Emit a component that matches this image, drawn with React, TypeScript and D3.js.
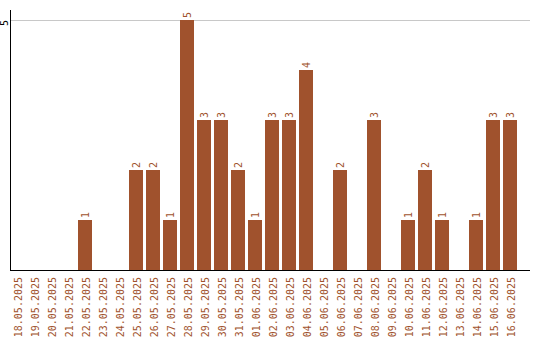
import React from "react";
import * as d3 from "d3";

const categories: string[] = [
  "18.05.2025", "19.05.2025", "20.05.2025", "21.05.2025", "22.05.2025",
  "23.05.2025", "24.05.2025", "25.05.2025", "26.05.2025", "27.05.2025",
  "28.05.2025", "29.05.2025", "30.05.2025", "31.05.2025", "01.06.2025",
  "02.06.2025", "03.06.2025", "04.06.2025", "05.06.2025", "06.06.2025",
  "07.06.2025", "08.06.2025", "09.06.2025", "10.06.2025", "11.06.2025",
  "12.06.2025", "13.06.2025", "14.06.2025", "15.06.2025", "16.06.2025",
];
const values: number[] = [
  0, 0, 0, 0, 1, 0, 0, 2, 2, 1, 5, 3, 3, 2, 1, 3, 3, 4, 0, 2, 0, 3, 0, 1, 2, 1, 0, 1, 3, 3,
];
const yTicks: number[] = [5];

const W = 540;
const H = 340;
const COLOR = "#A0522D";
const FONT = "'DejaVu Sans Mono', monospace";

export default function App() {
  const x = d3
    .scaleBand<string>()
    .domain(categories)
    .range([10, 517])
    .paddingInner(3 / 17)
    .paddingOuter(0);
  const y = d3.scaleLinear().domain([0, 5]).range([270, 20]);
  const bw = x.bandwidth();

  return (
    <svg
      width={W}
      height={H}
      style={{ position: "absolute", left: 0, top: 0, background: "#fff" }}
    >
      {yTicks.map((t) => (
        <g key={t}>
          <line x1={10} x2={530} y1={y(t) + 0.5} y2={y(t) + 0.5} stroke="#c8c8c8" strokeWidth={1} />
          <text
            transform={`translate(7.5,${y(t) + 3}) rotate(-90)`}
            textAnchor="middle"
            fontFamily={FONT}
            fontSize={10}
            fill="#000"
          >
            {t}
          </text>
        </g>
      ))}
      {categories.map((c, i) => {
        const v = values[i];
        const bx = x(c)!;
        const cx = bx + bw / 2;
        return (
          <g key={c}>
            {v > 0 && (
              <rect x={bx} y={y(v)} width={bw} height={y(0) - y(v)} fill={COLOR} />
            )}
            {v > 0 && (
              <text
                transform={`translate(${cx + 4},${y(v) - 2}) rotate(-90)`}
                textAnchor="start"
                fontFamily={FONT}
                fontSize={10}
                fill={COLOR}
              >
                {v}
              </text>
            )}
            <text
              transform={`translate(${cx + 4.5},277) rotate(-90)`}
              textAnchor="end"
              fontFamily={FONT}
              fontSize={10}
              fill={COLOR}
            >
              {c}
            </text>
          </g>
        );
      })}
      <line x1={10.5} x2={10.5} y1={10} y2={270} stroke="#000" strokeWidth={1} />
      <line x1={10} x2={530} y1={270.5} y2={270.5} stroke="#000" strokeWidth={1} />
    </svg>
  );
}
